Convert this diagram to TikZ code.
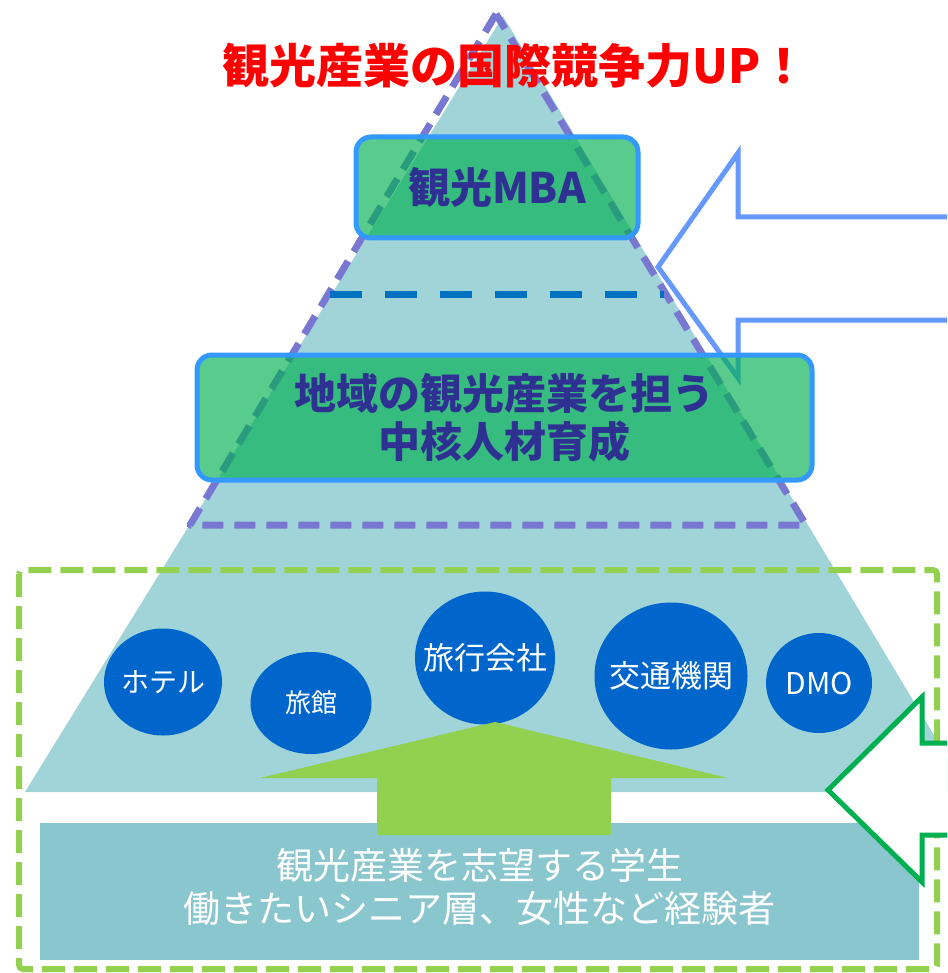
\documentclass[tikz,border=0pt]{standalone}
\usepackage{fontspec}
\setmainfont{Noto Sans CJK JP}
\usetikzlibrary{shapes.geometric}
\definecolor{tealbg}{HTML}{A0D4D8}
\definecolor{purp}{HTML}{7878D2}
\definecolor{dblue}{HTML}{0070C0}
\definecolor{boxgreen}{HTML}{00B050}
\definecolor{boxblue}{HTML}{3399FF}
\definecolor{navy}{HTML}{2E3192}
\definecolor{arrblue}{HTML}{6699FF}
\definecolor{lgreen}{HTML}{92D050}
\definecolor{cblue}{HTML}{0066CC}
\definecolor{basebox}{HTML}{8AC6CE}
\definecolor{ogreen}{HTML}{00B050}
\begin{document}
\begin{tikzpicture}[x=1pt,y=-1pt,
  greenbox/.style={draw=boxblue, line width=5pt, fill=boxgreen, fill opacity=0.65,
    draw opacity=1, text opacity=1, rounded corners=15pt, text=navy, align=center,
    inner sep=0pt},
  circ/.style={ellipse, fill=cblue, inner sep=0pt},
  circtext/.style={text=white, inner sep=0pt},
  outarrow/.style={line width=5pt, fill=white, line join=miter}
]
\useasboundingbox (0,0) rectangle (947,973);
\begin{scope}
\clip (0,0) rectangle (947,973);
% pyramid
\fill[tealbg] (503,16) -- (25,792) -- (968,792) -- cycle;
\draw[purp, line width=7pt, line join=round, dash pattern=on 21pt off 11pt] (496,14) -- (190,525) -- (806,525) -- cycle;
\draw[dblue, line width=7pt, dash pattern=on 32pt off 23pt] (330,294) -- (664,294);
% blue arrow
\draw[arrblue, outarrow] (658,267) -- (738,153) -- (738,217) -- (970,217) -- (970,320) -- (738,320) -- (738,378) -- cycle;
% boxes
\node[greenbox, minimum width=282pt, minimum height=101pt,
  font=\fontsize{42pt}{48pt}\selectfont\bfseries] (mba) at (497,187.5) {観光MBA};
\node[greenbox, minimum width=615pt, minimum height=125pt,
  font=\fontsize{42pt}{48pt}\selectfont\bfseries] (core) at (504.5,417.5) {地域の観光産業を担う\\中核人材育成};
% green dashed frame
\draw[lgreen, line width=6pt, rounded corners=4pt, dash pattern=on 23pt off 9pt] (19,570) rectangle (937,969);
% ellipses
\node[circ, minimum width=118pt, minimum height=107pt] (hotel) at (163,682) {};
\node[circtext, font=\fontsize{28pt}{32pt}\selectfont] (hotel-t) at (hotel) {ホテル};
\node[circ, minimum width=121pt, minimum height=102pt] (ryokan) at (311,703) {};
\node[circtext, font=\fontsize{26pt}{30pt}\selectfont] (ryokan-t) at (ryokan) {旅館};
\node[circ, minimum width=140pt, minimum height=133pt] (travel) at (485,658) {};
\node[circtext, font=\fontsize{31pt}{35pt}\selectfont] (travel-t) at (travel) {旅行会社};
\node[circ, minimum width=153pt, minimum height=147pt] (transport) at (671,676) {};
\node[circtext, font=\fontsize{31pt}{35pt}\selectfont] (transport-t) at (transport) {交通機関};
\node[circ, minimum width=106pt, minimum height=100pt] (dmo) at (819,683) {};
\node[circtext, font=\fontsize{30pt}{34pt}\selectfont] (dmo-t) at (dmo) {DMO};
% base box
\node[fill=basebox, minimum width=879pt, minimum height=137pt, inner sep=0pt] (base) at (479.5,891.5) {};
\node[text=white, align=center, inner sep=0pt, font=\fontsize{37pt}{43pt}\selectfont] (base-t) at (479.5,887) {観光産業を志望する学生\\働きたいシニア層、女性など経験者};
% green up arrow
\fill[lgreen] (495,722) -- (728,778) -- (611,778) -- (611,835) -- (377,835) -- (377,778) -- (260,778) -- cycle;
% green outline arrow
\draw[ogreen, outarrow] (828,790) -- (922,697) -- (922,743) -- (970,743) -- (970,835) -- (922,835) -- (922,882) -- cycle;
% title
\node[text=red, font=\fontsize{47pt}{56pt}\selectfont\bfseries] (title) at (515,66) {観光産業の国際競争力UP！};
\end{scope}
\end{tikzpicture}
\end{document}
